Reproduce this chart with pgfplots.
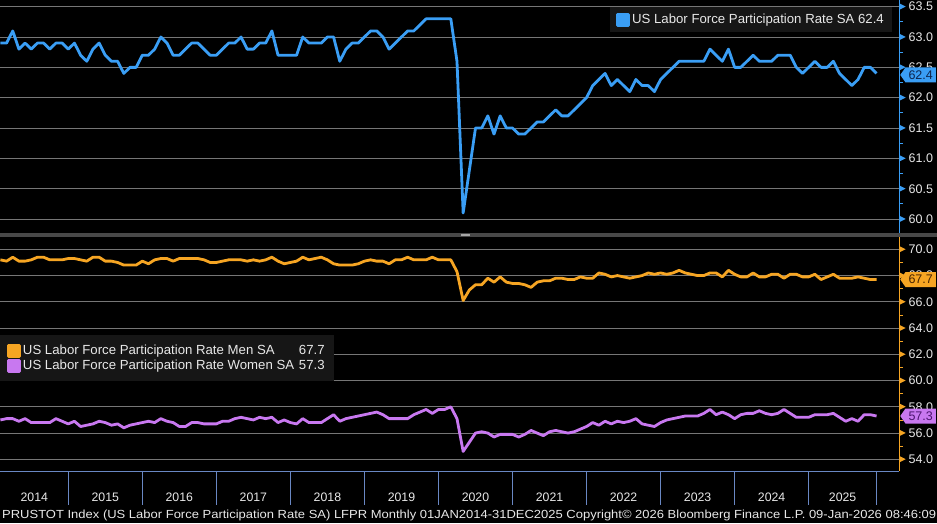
\documentclass[border=0pt]{standalone}
\usepackage{fontspec}
\setmainfont{Liberation Sans}
\usepackage{graphicx}
\usepackage{pgfplots}
\pgfplotsset{compat=1.18}
\usepackage{pgfplotstable}
\usetikzlibrary{shapes.symbols}

\definecolor{bbblue}{RGB}{58,158,245}
\definecolor{bborange}{RGB}{246,165,35}
\definecolor{bbpurple}{RGB}{200,120,240}
\definecolor{gridgray}{RGB}{118,118,118}
\definecolor{legbg}{RGB}{22,22,22}
\definecolor{sepgray}{RGB}{72,72,72}
\definecolor{xblue}{RGB}{105,135,195}
\definecolor{ticktext}{RGB}{232,232,232}
\definecolor{tagblue}{RGB}{12,35,75}
\definecolor{tagorange}{RGB}{70,35,0}
\definecolor{tagpurple}{RGB}{75,20,110}

% month index: 0 = Jan 2014 ... 142 = last print
\pgfplotstableread{
k tot men wom
0 62.9 69.2 57.0
1 62.9 69.1 57.1
2 63.1 69.4 57.1
3 62.8 69.1 56.9
4 62.9 69.1 57.1
5 62.8 69.2 56.8
6 62.9 69.4 56.8
7 62.9 69.4 56.8
8 62.8 69.2 56.8
9 62.9 69.2 57.1
10 62.9 69.2 56.9
11 62.8 69.3 56.7
12 62.9 69.3 56.9
13 62.7 69.2 56.5
14 62.6 69.1 56.6
15 62.8 69.4 56.7
16 62.9 69.4 56.9
17 62.7 69.1 56.8
18 62.6 69.1 56.6
19 62.6 69.0 56.7
20 62.4 68.8 56.4
21 62.5 68.8 56.6
22 62.5 68.8 56.7
23 62.7 69.1 56.8
24 62.7 68.9 56.9
25 62.8 69.2 56.8
26 63.0 69.3 57.1
27 62.9 69.3 56.9
28 62.7 69.1 56.8
29 62.7 69.3 56.5
30 62.8 69.3 56.5
31 62.9 69.3 56.8
32 62.9 69.3 56.8
33 62.8 69.2 56.7
34 62.7 69.0 56.7
35 62.7 69.0 56.7
36 62.8 69.1 56.9
37 62.9 69.2 56.9
38 62.9 69.2 57.1
39 63.0 69.2 57.2
40 62.8 69.1 57.1
41 62.8 69.2 57.0
42 62.9 69.1 57.2
43 62.9 69.2 57.1
44 63.1 69.4 57.2
45 62.7 69.1 56.8
46 62.7 68.9 57.0
47 62.7 69.0 56.8
48 62.7 69.1 56.7
49 63.0 69.4 57.1
50 62.9 69.2 56.8
51 62.9 69.3 56.8
52 62.9 69.4 56.8
53 63.0 69.2 57.1
54 63.0 68.9 57.4
55 62.6 68.8 56.9
56 62.8 68.8 57.1
57 62.9 68.8 57.2
58 62.9 68.9 57.3
59 63.0 69.1 57.4
60 63.1 69.2 57.5
61 63.1 69.1 57.6
62 63.0 69.1 57.4
63 62.8 68.9 57.1
64 62.9 69.2 57.1
65 63.0 69.2 57.1
66 63.1 69.4 57.1
67 63.1 69.2 57.4
68 63.2 69.2 57.6
69 63.3 69.2 57.8
70 63.3 69.4 57.5
71 63.3 69.2 57.8
72 63.3 69.2 57.8
73 63.3 69.2 58.0
74 62.6 68.3 57.1
75 60.1 66.1 54.6
76 60.8 66.9 55.3
77 61.5 67.3 56.0
78 61.5 67.3 56.1
79 61.7 67.8 56.0
80 61.4 67.5 55.7
81 61.7 67.9 55.9
82 61.5 67.5 55.9
83 61.5 67.4 55.9
84 61.4 67.4 55.7
85 61.4 67.3 55.9
86 61.5 67.1 56.2
87 61.6 67.5 56.0
88 61.6 67.6 55.8
89 61.7 67.6 56.1
90 61.8 67.8 56.2
91 61.7 67.8 56.1
92 61.7 67.7 56.0
93 61.8 67.7 56.1
94 61.9 67.9 56.3
95 62.0 67.8 56.5
96 62.2 67.8 56.8
97 62.3 68.2 56.6
98 62.4 68.1 56.9
99 62.2 67.9 56.7
100 62.3 68.0 56.9
101 62.2 67.9 56.8
102 62.1 67.8 56.9
103 62.3 67.9 57.1
104 62.2 68.0 56.7
105 62.2 68.2 56.6
106 62.1 68.1 56.5
107 62.3 68.2 56.8
108 62.4 68.1 57.0
109 62.5 68.2 57.1
110 62.6 68.4 57.2
111 62.6 68.2 57.3
112 62.6 68.1 57.3
113 62.6 68.0 57.3
114 62.6 68.0 57.5
115 62.8 68.2 57.8
116 62.7 68.2 57.4
117 62.6 67.9 57.6
118 62.8 68.4 57.4
119 62.5 68.1 57.1
120 62.5 67.9 57.4
121 62.6 67.9 57.5
122 62.7 68.2 57.5
123 62.6 67.9 57.7
124 62.6 67.9 57.5
125 62.6 68.1 57.4
126 62.7 68.1 57.5
127 62.7 67.8 57.8
128 62.7 68.1 57.5
129 62.5 68.1 57.2
130 62.4 67.9 57.2
131 62.5 67.9 57.2
132 62.6 68.1 57.4
133 62.5 67.7 57.4
134 62.5 67.9 57.4
135 62.6 68.1 57.5
136 62.4 67.8 57.2
137 62.3 67.8 56.9
138 62.2 67.8 57.1
139 62.3 67.9 56.9
140 62.5 67.8 57.4
141 62.5 67.7 57.4
142 62.4 67.7 57.3
}\lfpr

\newcommand\tri[1]{\tikz[baseline=-1.4pt]\fill[#1] (0,0)--(6pt,3pt)--(0,6pt)--cycle;}
\newcommand\bbnum{\pgfmathprintnumber[fixed,fixed zerofill,precision=1,assume math mode=true]{\tick}}

\pgfplotsset{
  bb/.style={
    scale only axis, width=899pt,
    xmin=-0.065, xmax=145.64,
    axis y line*=right,
    tick align=outside,
    major tick length=0pt, minor tick length=4pt,
    minor y tick num=1,
    scaled y ticks=false,
    ymajorgrids, grid style={gridgray, line width=0.7pt},
    tick label style={font=\fontsize{12.5}{14}\selectfont, text=ticktext},
    yticklabel style={anchor=west, inner sep=0pt, xshift=0.5pt},
    legend image code/.code={\fill[##1] (0pt,-5.5pt) rectangle (11pt,5.5pt);},
    legend style={fill=legbg, draw=none, text=ticktext,
      font=\fontsize{13.2}{15}\selectfont, legend cell align=left},
    every axis plot/.append style={line width=2.8pt, line join=round, mark=none},
  },
}
\tikzset{
  tag/.style={shape=signal, signal to=west, signal pointer angle=110, anchor=west,
    inner xsep=3pt, inner ysep=0pt, minimum height=15pt,
    font=\fontsize{12.5}{14}\selectfont},
}

\begin{document}
\begin{tikzpicture}
\fill[black] (0,0) rectangle (937pt,523pt);

% upper panel: total
\begin{axis}[bb, at={(0pt,290pt)}, anchor=south west, height=233pt,
  ymin=59.77, ymax=63.61, axis x line=none, xtick=\empty,
  ytick={60,60.5,61,61.5,62,62.5,63,63.5},
  y axis line style={bbblue, line width=0.8pt},
  y tick style={bbblue, line width=0.8pt},
  yticklabel={\tri{bbblue}\hspace{3pt}\bbnum},
  legend style={at={(0.9922,0.970)}, anchor=north east, inner xsep=6pt, inner ysep=5pt}]
\addplot[bbblue] table[x=k, y=tot] {\lfpr};
\addlegendentry{US Labor Force Participation Rate SA 62.4}
\coordinate (lastT) at (axis cs:145.64,62.4);
\end{axis}

% lower panel: men and women
\begin{axis}[bb, at={(0pt,52pt)}, anchor=south west, height=234pt,
  ymin=53.11, ymax=70.94, axis x line*=bottom, clip=false,
  ytick={54,56,58,60,62,64,66,68,70},
  x axis line style={xblue, line width=1pt},
  y axis line style={bborange, line width=0.8pt},
  y tick style={bborange, line width=0.8pt},
  yticklabel={\tri{bborange}\hspace{3pt}\bbnum},
  xtick={5.5,17,29,41,53,65,77,89,101,113,125,136.5},
  xticklabels={2014,2015,2016,2017,2018,2019,2020,2021,2022,2023,2024,2025},
  xticklabel style={anchor=center, yshift=-26pt, font=\fontsize{12.3}{14}\selectfont},
  legend style={at={(0,0.581)}, anchor=north west, inner xsep=7pt, inner ysep=8pt}]
\addplot[bborange] table[x=k, y=men] {\lfpr};
\addlegendentry{\makebox[276pt][l]{US Labor Force Participation Rate Men SA}67.7}
\addplot[bbpurple] table[x=k, y=wom] {\lfpr};
\addlegendentry{\makebox[276pt][l]{US Labor Force Participation Rate Women SA}57.3}
\pgfplotsinvokeforeach{11,23,35,47,59,71,83,95,107,119,131,142}{
  \draw[xblue, line width=1pt] (axis cs:#1,53.11) -- ++(0pt,-34pt);
}
\coordinate (lastM) at (axis cs:145.64,67.7);
\coordinate (lastW) at (axis cs:145.64,57.3);
\end{axis}

% panel divider
\fill[sepgray] (0pt,286pt) rectangle (937pt,290pt);
\draw[gray!70, line width=0.6pt] (461pt,288.7pt) -- (470pt,288.7pt) (461pt,287.3pt) -- (470pt,287.3pt);

% last-value tags
\node[tag, fill=bbblue, text=tagblue] at ([xshift=1pt,yshift=-1.5pt]lastT) {62.4};
\node[tag, fill=bborange, text=tagorange] at ([xshift=1pt]lastM) {67.7};
\node[tag, fill=bbpurple, text=tagpurple] at ([xshift=1pt]lastW) {57.3};

% footer
\node[anchor=base west, inner sep=0pt, text=ticktext] at (2pt,4.5pt)
  {\resizebox{934pt}{8.5pt}{PRUSTOT Index (US Labor Force Participation Rate SA) LFPR Monthly 01JAN2014-31DEC2025 Copyright© 2026 Bloomberg Finance L.P. 09-Jan-2026 08:46:09}};

\pgfresetboundingbox
\useasboundingbox (0,0) rectangle (937pt,523pt);
\end{tikzpicture}
\end{document}
